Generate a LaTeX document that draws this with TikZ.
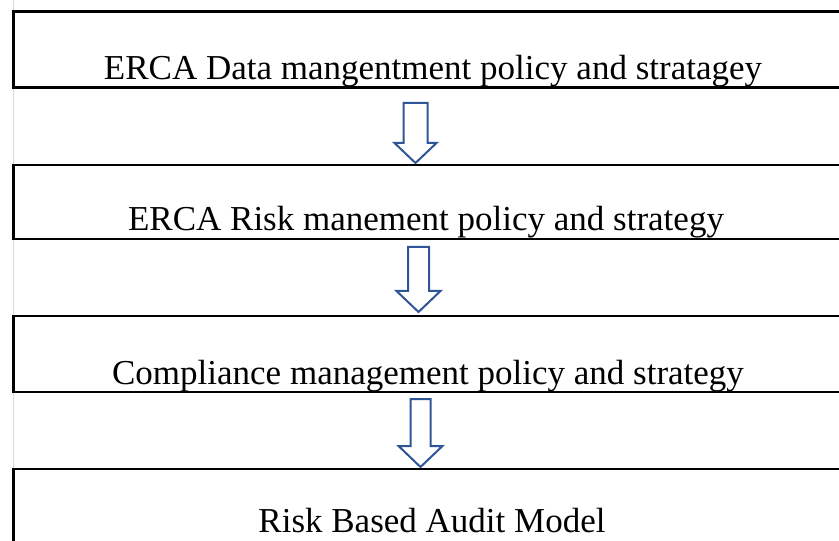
\documentclass[tikz,border=0pt]{standalone}
\usepackage{fontspec}
\setmainfont{Liberation Serif}
\usetikzlibrary{calc}
\definecolor{arrowblue}{HTML}{2F5597}
\tikzset{
  stage/.style={draw=black, line width=2.4bp, rectangle, inner sep=0pt, fill=none},
  lbl/.style={font=\fontsize{35bp}{38bp}\selectfont, anchor=base, inner sep=0pt},
  flowarrow/.style={draw=arrowblue, line width=2bp, fill=white, line join=miter}
}
% block arrow: #1 centre x, #2 shaft half width, #3 head half width, #4 top y, #5 neck y, #6 tip y
\newcommand{\blockarrow}[7]{%
  \draw[flowarrow] (#1-#2,#4) -- (#1+#2,#4) -- (#1+#2,#5) -- (#1+#3,#5)
     -- (#1,#6) coordinate (#7) -- (#1-#3,#5) -- (#1-#2,#5) -- cycle;}
\begin{document}
\begin{tikzpicture}[x=1bp,y=-1bp]
\useasboundingbox (0,0) rectangle (839,541);
\clip (0,0) rectangle (839,541);
% faint guide line along the left margin
\draw[black!15, line width=1.5bp] (13.5,0) -- (13.5,541);
% the four stages
\node[stage, minimum width=840bp, minimum height=76bp] (s1) at (433.5,49.5) {};
\node[stage, minimum width=840bp, minimum height=74bp] (s2) at (433.5,202) {};
\node[stage, minimum width=840bp, minimum height=76bp] (s3) at (433.5,354) {};
\node[stage, minimum width=840bp, minimum height=120bp] (s4) at (433.5,529) {};
\node[lbl] (t1) at (433,80) {ERCA Data mangentment policy and stratagey};
\node[lbl] (t2) at (426,231) {ERCA Risk manement policy and strategy};
\node[lbl] (t3) at (428,384) {Compliance management policy and strategy};
\node[lbl] (t4) at (432,532) {Risk Based Audit Model};
% arrows between stages
\blockarrow{415.5}{12}{21}{103}{143}{163}{a1}
\blockarrow{418.5}{10.5}{22}{247}{291}{312}{a2}
\blockarrow{420.5}{10}{22}{399}{446}{467}{a3}
\end{tikzpicture}
\end{document}
